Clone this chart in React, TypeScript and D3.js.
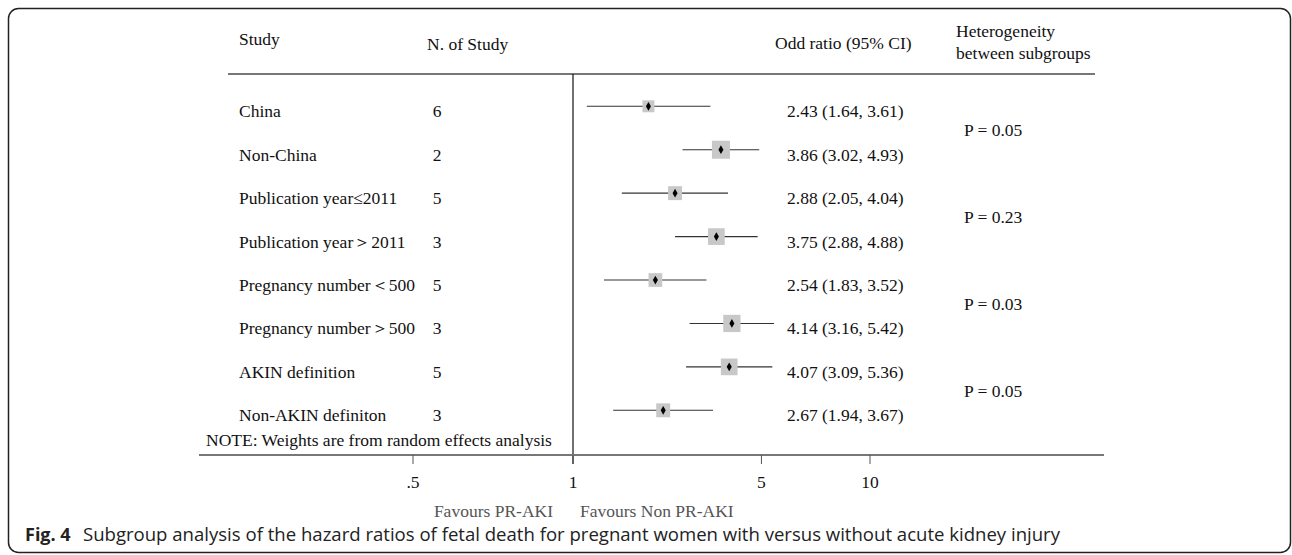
import React from 'react';
import * as d3 from 'd3';

// Subgroup rows
const subgroups = [
  'China',
  'Non-China',
  'Publication year≤2011',
  'Publication year＞2011',
  'Pregnancy number＜500',
  'Pregnancy number＞500',
  'AKIN definition',
  'Non-AKIN definiton',
];
const nStudies = [6, 2, 5, 3, 5, 3, 5, 3];
const oddRatio = [2.43, 3.86, 2.88, 3.75, 2.54, 4.14, 4.07, 2.67];
const ciLow = [1.64, 3.02, 2.05, 2.88, 1.83, 3.16, 3.09, 1.94];
const ciHigh = [3.61, 4.93, 4.04, 4.88, 3.52, 5.42, 5.36, 3.67];
// relative weights (box area)
const weights = [4.4, 10.0, 6.0, 8.6, 5.8, 9.2, 8.6, 6.0];
// heterogeneity between subgroup pairs
const pValues = ['P = 0.05', 'P = 0.23', 'P = 0.03', 'P = 0.05'];

const tickValues = [0.5, 1, 5, 10];
const tickLabels = ['.5', '1', '5', '10'];

const W = 1292;
const H = 555;
const serif = '"Liberation Serif", "Times New Roman", serif';

export default function App() {
  // the source axis is not uniformly logarithmic below the first estimate,
  // so the log scale is piecewise
  const x = d3.scaleLog().domain([0.5, 1, 1.6, 10]).range([413, 573, 583, 870]);
  const y = d3.scalePoint<string>().domain(subgroups).range([106.3, 410.3]);
  const box = d3.scaleSqrt().domain([0, 10]).range([0, 18]);
  const diamond = d3.symbol().type(d3.symbolDiamond).size(22)();

  const headerY = 74;
  const axisY = 455;
  const fmt = (v: number) => v.toFixed(2);

  return (
    <svg
      width={W}
      height={H}
      style={{ position: 'absolute', left: 0, top: 0, background: '#fff' }}
      fontFamily={serif}
    >
      <rect x={8.5} y={8.5} width={1282} height={544} rx={10} fill="none" stroke="#222" strokeWidth={1.5} />

      {/* headers */}
      <g fontSize={17.5} fill="#111">
        <text x={239} y={45}>Study</text>
        <text x={427} y={50}>N. of Study</text>
        <text x={775} y={49}>Odd ratio (95% CI)</text>
        <text x={956} y={37}>Heterogeneity</text>
        <text x={956} y={59}>between subgroups</text>
      </g>
      <line x1={228} x2={1095} y1={headerY} y2={headerY} stroke="#777" strokeWidth={1.8} />

      {/* null line */}
      <line x1={x(1)} x2={x(1)} y1={headerY} y2={axisY + 9} stroke="#111" strokeWidth={1.2} />

      {/* rows */}
      {subgroups.map((s, i) => {
        const cy = y(s) as number;
        const side = box(weights[i]);
        const cx = x(oddRatio[i]);
        return (
          <g key={s}>
            <text x={239} y={cy + 11} fontSize={17.5} fill="#111">{s}</text>
            <text x={437} y={cy + 11} fontSize={17.5} fill="#111" textAnchor="middle">{nStudies[i]}</text>
            <line x1={x(ciLow[i])} x2={x(ciHigh[i])} y1={cy} y2={cy} stroke="#333" strokeWidth={1.1} />
            <rect x={cx - side / 2} y={cy - side / 2} width={side} height={side} fill="#c8c8c8" />
            <path d={diamond as string} transform={`translate(${cx},${cy})`} fill="#000" />
            <text x={787} y={cy + 11} fontSize={17.5} fill="#111">
              {`${fmt(oddRatio[i])} (${fmt(ciLow[i])}, ${fmt(ciHigh[i])})`}
            </text>
          </g>
        );
      })}

      {pValues.map((p, k) => {
        const mid = ((y(subgroups[2 * k]) as number) + (y(subgroups[2 * k + 1]) as number)) / 2;
        return (
          <text key={k} x={964} y={mid + 8} fontSize={17.5} fill="#111">{p}</text>
        );
      })}

      <text x={206} y={446} fontSize={17.5} fill="#111">NOTE: Weights are from random effects analysis</text>

      {/* axis */}
      <line x1={199} x2={1104} y1={axisY} y2={axisY} stroke="#777" strokeWidth={1.8} />
      {tickValues.map((t, i) => (
        <g key={t}>
          <line x1={x(t)} x2={x(t)} y1={axisY} y2={axisY + 9} stroke="#555" strokeWidth={1} />
          <text x={x(t)} y={488} fontSize={17.5} textAnchor="middle" fill="#111">{tickLabels[i]}</text>
        </g>
      ))}
      <text x={x(1) - 20} y={517} fontSize={17.5} textAnchor="end" fill="#555">Favours PR-AKI</text>
      <text x={x(1) + 7} y={517} fontSize={17.5} fill="#555">Favours Non PR-AKI</text>

      {/* caption */}
      <text x={25} y={541} fontFamily='"Open Sans", "Noto Sans", sans-serif' fontSize={18} fontWeight={700} fill="#222">Fig. 4</text>
      <text
        x={83}
        y={541}
        fontFamily='"Open Sans", "Noto Sans", sans-serif'
        fontSize={18}
        fill="#222"
        textLength={977}
        lengthAdjust="spacingAndGlyphs"
      >
        Subgroup analysis of the hazard ratios of fetal death for pregnant women with versus without acute kidney injury
      </text>
    </svg>
  );
}
